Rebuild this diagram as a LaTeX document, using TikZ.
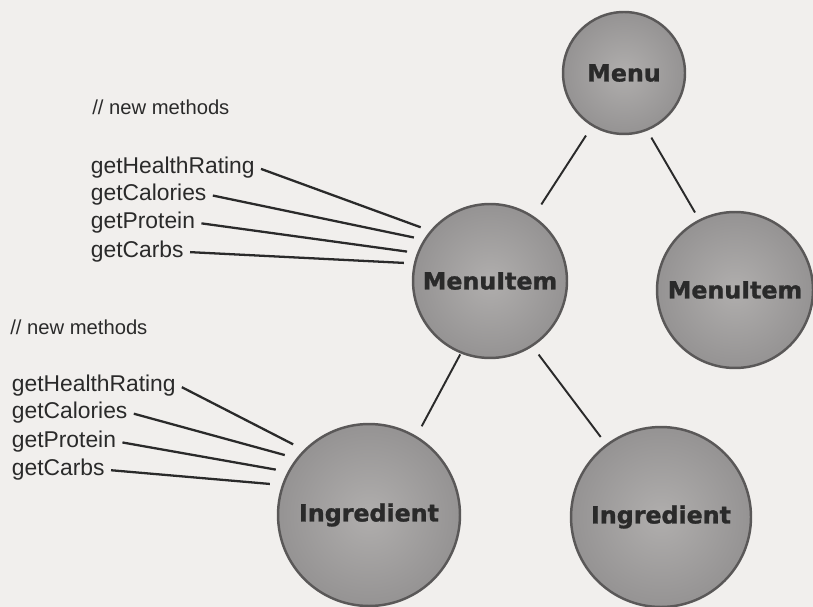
\documentclass[tikz,border=0pt]{standalone}
\usepackage{fontspec}
\setsansfont{Liberation Sans}
\newfontfamily\ballfont[FakeBold=1.2]{DejaVu Sans Bold}
\usepackage{xcolor}
\definecolor{PaperBg}{HTML}{F1EFED}
\definecolor{BallFill}{HTML}{B0AEAD}
\definecolor{BallEdge}{HTML}{959393}
\definecolor{BallRim}{HTML}{5A5858}
\definecolor{InkGray}{HTML}{2A2A2A}
\usepackage{tikz}
\usetikzlibrary{calc, positioning}

\begin{document}
\begin{tikzpicture}[
    x=0.02cm, y=-0.02cm,
    font=\sffamily,
    ball/.style={circle, draw=BallRim, line width=1.4pt, inner sep=0pt,
                 shading=radial, inner color=BallFill, outer color=BallEdge,
                 text=InkGray, font=\ballfont\fontsize{13.5}{15}\selectfont},
    method_label/.style={anchor=west, inner sep=2pt, text=InkGray,
                 font=\sffamily\fontsize{13}{14}\selectfont},
    note_label/.style={anchor=west, inner sep=0pt, text=InkGray,
                 font=\sffamily\fontsize{11.5}{13}\selectfont},
    tree_link/.style={InkGray, line width=1.1pt},
    method_link/.style={InkGray, line width=1.3pt, shorten <=1.5pt}
]

    % 0. PAPER
    \fill[PaperBg] (0,0) rectangle (813,607);
    \useasboundingbox (0,0) rectangle (813,607);

    % 1. THE TREE
    \node[ball, minimum size=2.44cm] (menu) at (624,73) {Menu};
    \node[ball, minimum size=3.08cm] (itemA) at (490,281) {MenuItem};
    \node[ball, minimum size=3.12cm] (itemB) at (735,290) {MenuItem};
    \node[ball, minimum size=3.64cm] (ingrA) at (369,515) {Ingredient};
    \node[ball, minimum size=3.60cm] (ingrB) at (661,517) {Ingredient};

    \draw[tree_link, shorten <=0.22cm, shorten >=0.28cm] (menu.239) -- (itemA.56);
    \draw[tree_link, shorten <=0.16cm, shorten >=0.16cm] (menu.292) -- (itemB.117);
    \draw[tree_link, shorten <=0.02cm, shorten >=0.22cm] (itemA.248) -- (ingrA.59);
    \draw[tree_link, shorten <=0.20cm, shorten >=0.18cm] (itemA.303) -- (ingrB.127);

    % 2. NEW METHODS ON MENUITEM
    \node[note_label] (noteA) at (92,107) {// new methods};
    \foreach \nm/\txt/\yy/\ang in {hrA/getHealthRating/168/140,
                                   calA/getCalories/195/148,
                                   protA/getProtein/223/159,
                                   carbA/getCarbs/252/167} {
        \node[method_label] (\nm) at (87,\yy) {\txt};
        \draw[method_link, shorten >=0.2cm] (\nm.east) -- (itemA.\ang);
    }

    % 3. NEW METHODS ON INGREDIENT
    \node[note_label] (noteB) at (10,327) {// new methods};
    \foreach \nm/\txt/\yy/\ang in {hrB/getHealthRating/386/135,
                                   calB/getCalories/413/142,
                                   protB/getProtein/442/152,
                                   carbB/getCarbs/470/161} {
        \node[method_label] (\nm) at (8,\yy) {\txt};
        \draw[method_link, shorten >=0.24cm] (\nm.east) -- (ingrA.\ang);
    }

\end{tikzpicture}
\end{document}
